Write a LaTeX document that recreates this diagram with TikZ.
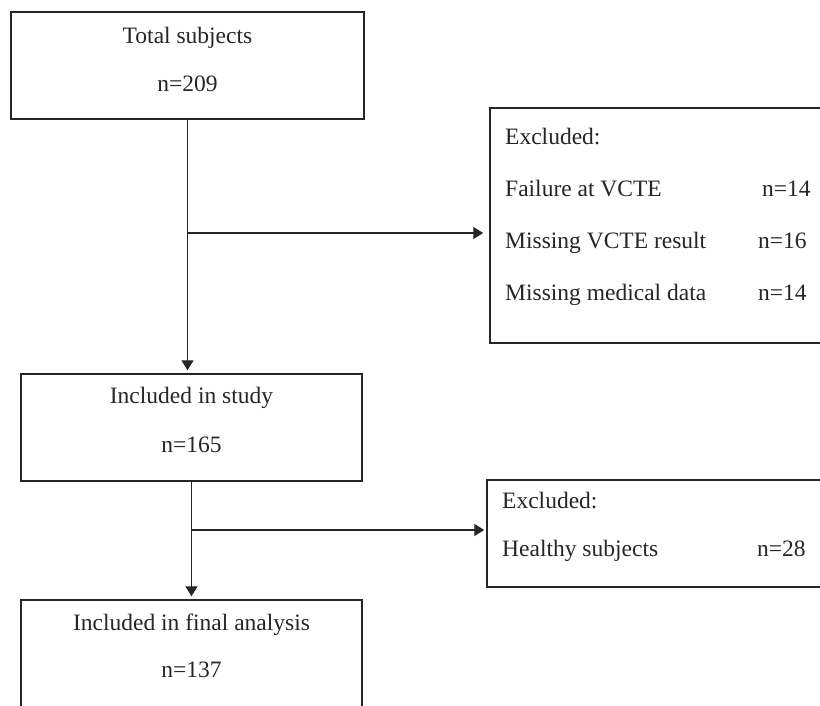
\documentclass[tikz,border=0pt]{standalone}
\usepackage{fontspec}
\setmainfont{Liberation Serif}
\usetikzlibrary{arrows.meta}
\begin{document}
\begin{tikzpicture}[x=1pt,y=-1pt,
  box/.style={draw=black!85, line width=1.5pt, rectangle, inner sep=0pt},
  txt/.style={font=\fontsize{23.5}{28}\selectfont, inner sep=0pt, text=black!85},
  arr/.style={draw=black!85, line width=1.4pt, -{Triangle[length=10pt,width=12pt]}}]
\clip (0,0) rectangle (820,705);
\fill[white] (0,0) rectangle (820,705);
% boxes
\node[box, minimum width=353pt, minimum height=107pt] (b1) at (187.5,65.5) {};
\node[box, minimum width=341pt, minimum height=107pt] (b2) at (191.5,427.5) {};
\node[box, minimum width=341pt, minimum height=160pt] (b3) at (191.5,680) {};
\node[box, minimum width=360pt, minimum height=235pt] (e1) at (670,225.5) {};
\node[box, minimum width=363pt, minimum height=107pt] (e2) at (668.5,533.5) {};
% texts
\node[txt, anchor=base] (t1a) at (187.5,43) {Total subjects};
\node[txt, anchor=base] (t1b) at (187.5,91) {n=209};
\node[txt, anchor=base] (t2a) at (191.5,403) {Included in study};
\node[txt, anchor=base] (t2b) at (191.5,452) {n=165};
\node[txt, anchor=base] (t3a) at (191.5,630) {Included in final analysis};
\node[txt, anchor=base] (t3b) at (191.5,677) {n=137};
\node[txt, anchor=base west] (x1) at (505,144) {Excluded:};
\node[txt, anchor=base west] (x2) at (505,196) {Failure at VCTE};
\node[txt, anchor=base west] (x3) at (505,248) {Missing VCTE result};
\node[txt, anchor=base west] (x4) at (505,300) {Missing medical data};
\node[txt, anchor=base west] (n2) at (762,196) {n=14};
\node[txt, anchor=base west] (n3) at (758,248) {n=16};
\node[txt, anchor=base west] (n4) at (758,300) {n=14};
\node[txt, anchor=base west] (y1) at (502,508) {Excluded:};
\node[txt, anchor=base west] (y2) at (502,556) {Healthy subjects};
\node[txt, anchor=base west] (m2) at (757,556) {n=28};
% connectors
\draw[arr, shorten >=3pt] (b1.south) -- (b1.south |- b2.north);
\coordinate (j1) at (187,233);
\draw[arr, shorten >=6pt] (j1) -- (j1 -| e1.west);
\draw[arr, shorten >=3pt] (b2.south) -- (b3.north);
\coordinate (j2) at (191.5,530);
\draw[arr, shorten >=2pt] (j2) -- (j2 -| e2.west);
\end{tikzpicture}
\end{document}
